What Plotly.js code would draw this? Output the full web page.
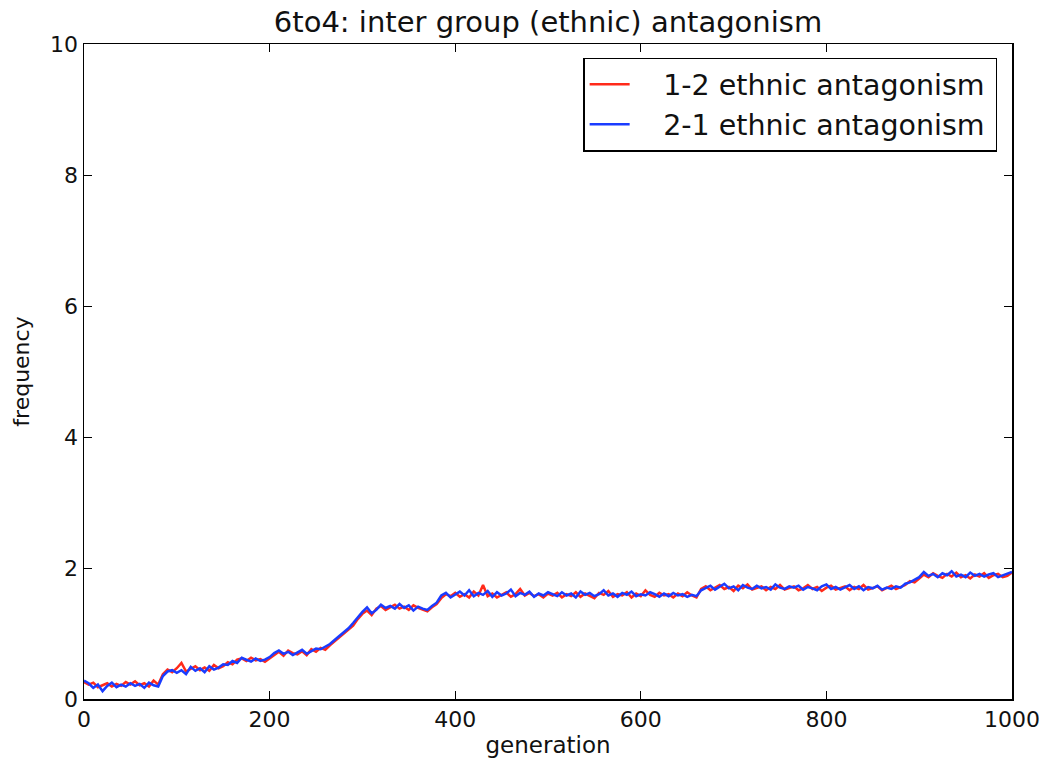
<!DOCTYPE html>
<html>
<head>
<meta charset="utf-8">
<script src="https://cdn.plot.ly/plotly-3.0.1.min.js"></script>
<style>
html,body{margin:0;padding:0;background:#fff;}
#chart{width:1045px;height:760px;}
</style>
</head>
<body>
<div id="chart"></div>
<script>
// generation sampled every 5 steps, 0..1000
var generationStep = 5;
var seriesNames = ["1-2 ethnic antagonism", "2-1 ethnic antagonism"];
var xTicks = [0, 200, 400, 600, 800, 1000];
var yTicks = [0, 2, 4, 6, 8, 10];

var antagonism12 = [
  0.26,0.22,0.25,0.18,0.21,0.24,0.19,0.23,0.20,0.26,0.22,0.27,0.21,0.24,0.19,0.28,0.22,
  0.38,0.45,0.41,
  0.47,0.55,0.42,0.46,0.50,0.44,0.48,0.43,0.52,0.47,0.50,
  0.56,0.53,0.60,0.62,0.58,0.63,0.59,0.61,0.57,
  0.62,0.68,0.72,0.66,0.74,0.70,0.68,0.73,0.67,0.76,0.72,
  0.78,0.75,0.82,0.88,0.93,0.99,1.06,1.12,1.22,
  1.30,1.35,1.28,1.38,1.42,1.36,1.40,1.44,1.38,
  1.41,1.36,1.43,1.39,1.37,1.34,1.40,1.45,
  1.54,1.60,1.57,
  1.62,1.56,1.60,1.55,1.64,1.58,1.74,1.57,1.61,1.55,1.59,1.63,1.56,1.60,1.68,1.58,1.62,1.57,1.60,1.55,1.61,
  1.58,1.62,1.55,1.60,1.57,1.63,1.56,1.61,1.58,1.54,1.62,1.59,1.65,1.56,1.60,1.58,1.63,1.55,1.61,1.57,1.66,1.59,1.56,1.62,1.58,1.60,1.55,1.61,1.57,1.63,1.58,1.55,
  1.68,1.72,1.66,1.70,1.74,1.68,1.71,1.65,1.73,1.69,1.75,1.67,1.70,1.72,1.66,1.71,1.68,1.74,1.67,1.70,
  1.72,1.66,1.69,1.74,1.68,1.71,1.65,1.70,1.73,1.67,1.69,1.72,1.66,1.71,1.68,1.74,1.67,1.70,1.72,1.66,1.69,1.73,1.68,1.71,
  1.74,1.80,1.78,1.84,
  1.90,1.86,1.92,1.88,1.85,1.91,1.87,1.93,1.86,1.89,1.84,1.90,1.87,1.92,1.85,1.89,1.91,1.86,1.88,1.93
];

var antagonism21 = [
  0.28,0.24,0.17,0.22,0.12,0.20,0.25,0.18,0.22,0.19,0.24,0.20,0.23,0.17,0.25,0.21,0.19,
  0.35,0.42,0.44,
  0.40,0.44,0.38,0.49,0.43,0.47,0.41,0.50,0.45,0.48,0.53,
  0.52,0.58,0.55,0.63,0.60,0.57,0.62,0.58,0.60,
  0.64,0.70,0.74,0.69,0.72,0.67,0.71,0.75,0.69,0.73,0.77,
  0.76,0.80,0.84,0.90,0.96,1.02,1.08,1.16,1.25,
  1.33,1.40,1.31,1.36,1.44,1.39,1.42,1.38,1.45,
  1.39,1.43,1.35,1.41,1.38,1.36,1.42,1.47,
  1.58,1.62,1.55,
  1.60,1.64,1.58,1.66,1.57,1.62,1.59,1.65,1.56,1.63,1.58,1.61,1.67,1.57,1.62,1.59,1.64,1.56,1.61,1.58,1.63,
  1.60,1.57,1.63,1.58,1.61,1.55,1.64,1.59,1.62,1.57,1.60,1.66,1.58,1.61,1.56,1.62,1.59,1.64,1.57,1.60,1.58,1.63,1.60,1.56,1.61,1.57,1.62,1.58,1.60,1.56,1.59,1.57,
  1.66,1.70,1.73,1.67,1.71,1.76,1.69,1.72,1.66,1.74,1.70,1.68,1.73,1.69,1.71,1.67,1.75,1.70,1.68,1.72,
  1.70,1.73,1.67,1.71,1.69,1.66,1.72,1.75,1.68,1.71,1.67,1.70,1.74,1.68,1.72,1.66,1.71,1.69,1.73,1.67,1.70,1.68,1.72,1.70,
  1.76,1.78,1.82,1.86,
  1.94,1.88,1.91,1.86,1.92,1.89,1.95,1.87,1.90,1.86,1.93,1.88,1.91,1.87,1.90,1.92,1.86,1.89,1.91,1.94
];

var generations = antagonism12.map(function(_, i){ return i * generationStep; });

var FONT = "DejaVu Sans, sans-serif";
var padL = "\u2003";
var padR = "\u2009";

var traces = [
  {x: generations, y: antagonism12, type: "scatter", mode: "lines",
   name: padL + seriesNames[0] + padR, line: {color: "#ff2a1a", width: 2.5}},
  {x: generations, y: antagonism21, type: "scatter", mode: "lines",
   name: padL + seriesNames[1] + padR, line: {color: "#1a3cff", width: 2.5}}
];

var axisCommon = {
  showline: true, linecolor: "#000", linewidth: 1.5, mirror: "ticks",
  ticks: "inside", ticklen: 8, tickwidth: 1, tickcolor: "#000",
  showgrid: false, zeroline: false,
  tickfont: {family: FONT, size: 22, color: "#111"}
};

var layout = {
  width: 1045, height: 760,
  paper_bgcolor: "#fff", plot_bgcolor: "#fff",
  margin: {l: 84, r: 33, t: 44, b: 61},
  title: {text: "6to4: inter group (ethnic) antagonism",
          font: {family: FONT, size: 29, color: "#111"},
          x: 0.5, xref: "paper", y: 1 - 22/760, yref: "container", yanchor: "middle"},
  xaxis: Object.assign({}, axisCommon, {
    range: [0, 1000], tickvals: xTicks, ticktext: xTicks.map(String),
    title: {text: "generation", font: {family: FONT, size: 23, color: "#111"}, standoff: 6}
  }),
  yaxis: Object.assign({}, axisCommon, {
    range: [0, 10], tickvals: yTicks, ticktext: yTicks.map(String),
    title: {text: "frequency", font: {family: FONT, size: 22, color: "#111"}, standoff: 14}
  }),
  legend: {
    x: 0.984, y: 0.979, xanchor: "right", yanchor: "top",
    bgcolor: "#fff", bordercolor: "#000", borderwidth: 1.5,
    font: {family: FONT, size: 28.5, color: "#111"},
    itemwidth: 40, tracegroupgap: 0
  },
  showlegend: true
};

Plotly.newPlot("chart", traces, layout, {staticPlot: true, displayModeBar: false});
</script>
</body>
</html>
